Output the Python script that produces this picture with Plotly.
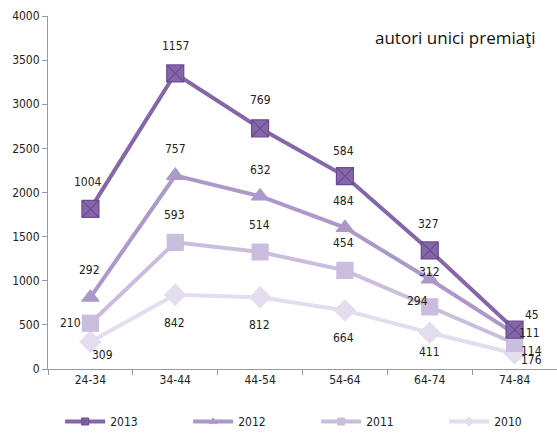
import numpy as np
import plotly.graph_objects as go

# age groups and prize-winning unique authors per year (stacked)
age_groups = ["24-34", "34-44", "44-54", "54-64", "64-74", "74-84"]
years = ["2010", "2011", "2012", "2013"]
authors_2010 = [309, 842, 812, 664, 411, 176]
authors_2011 = [210, 593, 514, 454, 294, 114]
authors_2012 = [292, 757, 632, 484, 312, 111]
authors_2013 = [1004, 1157, 769, 584, 327, 45]

series = {
    "2010": authors_2010,
    "2011": authors_2011,
    "2012": authors_2012,
    "2013": authors_2013,
}

colors = {"2013": "#8466A9", "2012": "#AC99CA", "2011": "#CABDDE", "2010": "#E4DDEE"}
edge_colors = {"2013": "#6A4C93", "2012": "#AC99CA", "2011": "#CABDDE", "2010": "#E4DDEE"}
symbols = {"2013": "square-x", "2012": "triangle-up", "2011": "square", "2010": "diamond"}
sizes = {"2013": 17, "2012": 15, "2011": 16, "2010": 16}

# pixel offsets of each value label relative to its point
label_offsets = {
    "2013": [(-2, 27), (0, 27), (0, 28), (-1, 25), (-1, 26), (17, 15)],
    "2012": [(-1, 27), (0, 27), (0, 26), (-1, 27), (0, 7), (15, 1)],
    "2011": [(-20, 0), (-1, 27), (-1, 27), (-1, 27), (-12, 6), (17, -8)],
    "2010": [(12, -13), (-1, -28), (-1, -28), (-1, -28), (0, -19), (17, -7)],
}

font_family = "DejaVu Sans Condensed, DejaVu Sans, sans-serif"

fig = go.Figure()
cumulative = np.zeros(len(age_groups))
annotations = []
for year in years:
    vals = np.array(series[year])
    cumulative = cumulative + vals
    fig.add_trace(go.Scatter(
        x=age_groups, y=vals, name=year,
        stackgroup="one", fill="none",
        mode="lines+markers",
        line=dict(color=colors[year], width=4),
        marker=dict(symbol=symbols[year], size=sizes[year], color=colors[year],
                    line=dict(color=edge_colors[year], width=1.2)),
        showlegend=False,
    ))
    for i, (cat, v, c) in enumerate(zip(age_groups, vals, cumulative)):
        dx, dy = label_offsets[year][i]
        annotations.append(dict(
            x=cat, y=c, text=str(v), showarrow=False,
            xshift=dx, yshift=dy,
            font=dict(family=font_family, size=12, color="#222222"),
        ))

# compact legend entries (small markers on a thick line)
for year in reversed(years):
    fig.add_trace(go.Scatter(
        x=[None], y=[None], name=year, mode="lines+markers",
        line=dict(color=colors[year], width=4),
        marker=dict(symbol=symbols[year], size=7, color=colors[year],
                    line=dict(color=edge_colors[year], width=1)),
        showlegend=True,
    ))

annotations.append(dict(
    xref="paper", yref="paper", x=0.963, y=0.94, xanchor="right", yanchor="middle",
    text="autori unici premiaţi", showarrow=False,
    font=dict(family="Open Sans, sans-serif", size=17, color="#111111"),
))

fig.update_layout(
    width=557, height=435,
    margin=dict(l=48, r=0, t=16, b=66, autoexpand=False),
    paper_bgcolor="white", plot_bgcolor="white",
    showlegend=True,
    legend=dict(orientation="h", xref="container", yref="container",
                x=0.108, y=0.031, xanchor="left", yanchor="middle",
                traceorder="normal",
                font=dict(family=font_family, size=12, color="#222222"),
                itemwidth=40, entrywidthmode="pixels", entrywidth=73),
    annotations=annotations,
)
fig.update_xaxes(
    type="category", range=[-0.5, 5.5],
    showline=True, linecolor="#999999", linewidth=1,
    ticks="outside", tickson="boundaries", ticklen=5, tickcolor="#999999",
    showgrid=False, zeroline=False,
    tickfont=dict(family=font_family, size=12, color="#222222"),
)
fig.update_yaxes(
    range=[0, 4000], dtick=500,
    showline=True, linecolor="#999999", linewidth=1,
    ticks="outside", ticklen=5, tickcolor="#999999",
    showgrid=False, zeroline=False,
    tickfont=dict(family=font_family, size=12, color="#222222"),
)

fig.write_html("out.html")
